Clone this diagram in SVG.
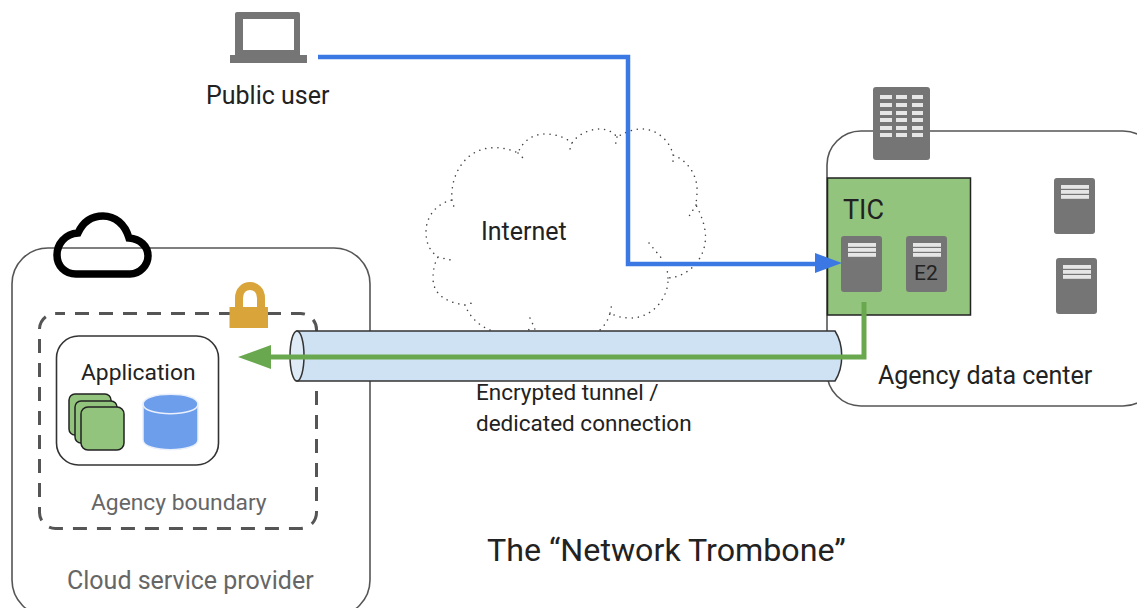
<svg xmlns="http://www.w3.org/2000/svg" width="1137" height="608" viewBox="0 0 1137 608">
<style>
text{font-family:Roboto,"Liberation Sans",sans-serif;fill:#222}
.g{fill:#666}
.box{fill:#fff;stroke:#555;stroke-width:1.6}
.srv{fill:#757575}
.bar{fill:#e6e6e6}
.dot{fill:none;stroke:#444;stroke-width:1.5;stroke-linecap:round;stroke-dasharray:.1 6}
</style>
<defs>
<g id="server"><rect x="0" y="0" width="41" height="56" rx="3" class="srv"/><rect x="7" y="7" width="28" height="3.800" class="bar"/><rect x="7" y="12" width="28" height="3.800" class="bar"/><rect x="7" y="17" width="28" height="3.800" class="bar"/></g>
</defs>
<rect width="1137" height="608" fill="#fff"/>
<g id="internet">
<path class="dot" d="M452 200C450 175 465 150 490 148C500 147 510 149 518 153C522 142 532 134 545 134C555 134 565 137 572 143C578 134 590 129 600 129C607 129 613 132 617 137C628 131 634 129 642 129C656 129 670 140 673 155C687 160 698 175 697 192C697 197 696 202 696 205C703 218 707 232 705 243C703 260 688 277 668 278C669 295 655 318 630 318C622 318 615 316 610 313Q608 322 600 330M490 330C480 326 470 318 465 305C452 303 433 298 433 278C433 270 435 262 438 257C428 250 426 240 426 232C426 215 438 203 452 200M518 153L523 158M572 143L569 152M617 137L615 147M673 155L673 162M696 205L688 218M649 243L663 260M668 278L667 268M610 313L612 303M530 318L535 329L525 330M465 305L472 303M438 257L455 261M452 200L454 207"/>
<text x="481" y="240" font-size="25">Internet</text>
</g>
<g id="cloud-provider">
<rect x="12" y="248" width="358" height="368" rx="36" class="box"/>
<text x="67" y="589" font-size="25" class="g">Cloud service provider</text>
<path d="M76 274H130C140 274 148 265 148 256C148 246 140 239 129 238C125 224 115 216 103 216C92 216 83 222 78 233C65 234 57 244 57 255C57 266 65 274 76 274Z" fill="none" stroke="#000" stroke-width="7.500"/>
</g>
<g id="agency-boundary">
<rect x="39.500" y="313.500" width="277" height="215" rx="16" fill="none" stroke="#555" stroke-width="3" stroke-dasharray="14 10" stroke-dashoffset="4.500"/>
<text x="91" y="510" font-size="22.800" class="g">Agency boundary</text>
</g>
<g id="lock">
<path d="M239 308V298C239 282 261 282 261 298V308" fill="none" stroke="#d9a53b" stroke-width="8"/>
<rect x="229.500" y="307" width="38.500" height="21" fill="#d9a53b"/>
</g>
<g id="application">
<rect x="56.500" y="336" width="162" height="129" rx="22" fill="#fff" stroke="#333" stroke-width="1.600"/>
<text x="81" y="380" font-size="22.800">Application</text>
<rect x="69" y="394" width="42" height="41" rx="6" fill="#93c47d" stroke="#222" stroke-width="1.500"/>
<rect x="75" y="401" width="42" height="42" rx="6" fill="#93c47d" stroke="#222" stroke-width="1.500"/>
<rect x="81" y="407" width="43" height="43" rx="7" fill="#93c47d" stroke="#222" stroke-width="1.500"/>
<path d="M143 404C143 391 198 391 198 404V440C198 453 143 453 143 440Z" fill="#6d9eeb" stroke="#eaf0fb" stroke-width="1.500"/>
<path d="M143 404C143 417 198 417 198 404" fill="none" stroke="#eaf0fb" stroke-width="1.500"/>
</g>
<g id="data-center">
<rect x="827" y="131" width="330" height="275" rx="34" class="box"/>
<rect x="827.500" y="178" width="143" height="137" fill="#93c47d" stroke="#222" stroke-width="1.500"/>
<text x="843" y="219" font-size="27">TIC</text>
<text x="878" y="384" font-size="25">Agency data center</text>
</g>
<g id="building">
<rect x="873" y="87" width="57" height="73" rx="3" class="srv"/>
<path class="bar" d="M880 95h12v4h-12zM896 95h11v4h-11zM912 95h11v4h-11zM880 103h12v4h-12zM896 103h11v4h-11zM912 103h11v4h-11zM880 111h12v4h-12zM896 111h11v4h-11zM912 111h11v4h-11zM880 118h12v4h-12zM896 118h11v4h-11zM912 118h11v4h-11zM880 126h12v4h-12zM896 126h11v4h-11zM912 126h11v4h-11zM880 133h12v4h-12zM896 133h11v4h-11zM912 133h11v4h-11z"/>
</g>
<g id="server-tic"><use href="#server" x="841" y="236"/></g>
<g id="server-e2"><use href="#server" x="906" y="236"/><text x="914" y="280" font-size="21">E2</text></g>
<g id="server-a"><use href="#server" x="1054" y="178"/></g>
<g id="server-b"><use href="#server" x="1056" y="258"/></g>
<g id="laptop">
<path d="M237 12H298Q300 12 300 14V55H307V63H230V55H235V14Q235 12 237 12ZM243 19V50H294V19Z" fill="#757575" fill-rule="evenodd"/>
<text x="206" y="104" font-size="25">Public user</text>
</g>
<g id="tunnel">
<path d="M297 331H835C844 345 844 367 835 381H297Z" fill="#cfe2f3" stroke="#333" stroke-width="1.500"/>
<ellipse cx="297" cy="356" rx="7" ry="25" fill="#deeaf6" stroke="#333" stroke-width="1.500"/>
<text x="476" y="400" font-size="22.500">Encrypted tunnel /</text>
<text x="476" y="431" font-size="22.500">dedicated connection</text>
</g>
<g id="connectors" fill="none">
<path d="M318 57H628V264H818" stroke="#3c78e4" stroke-width="4.500"/>
<path d="M842 263L815 253V273Z" fill="#3c78e4"/>
<path d="M864 302V357H268" stroke="#6aa84f" stroke-width="5"/>
<path d="M238 357L271 345V369Z" fill="#6aa84f"/>
</g>
<text x="487" y="561" font-size="32.200">The “Network Trombone”</text>
</svg>
